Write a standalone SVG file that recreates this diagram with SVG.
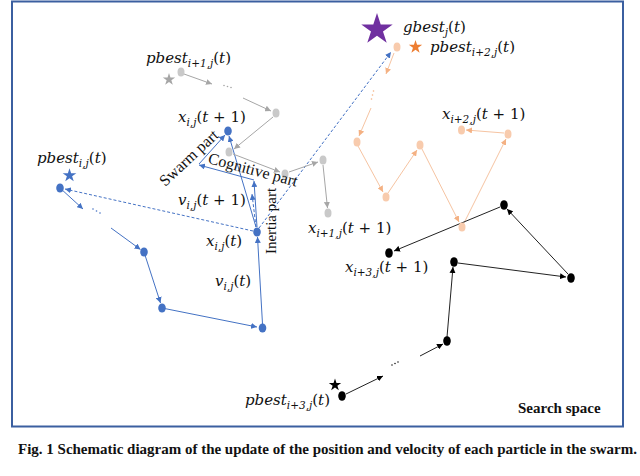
<svg xmlns="http://www.w3.org/2000/svg" xmlns:xlink="http://www.w3.org/1999/xlink" width="640" height="476" viewBox="0 0 640 476">
<defs>
<style>
.lb{font-family:"DejaVu Serif","Liberation Serif",serif;font-style:italic;font-size:15px;fill:#111}
.sb{font-size:10.5px}
.up{font-style:normal}
.part{font-family:"Liberation Serif",serif;font-size:15px;fill:#111}
.bl{stroke:#4472C4;stroke-width:1;fill:none}
.dash{stroke-dasharray:3,2}
.gr{stroke:#A6A6A6;stroke-width:1;fill:none}
.or{stroke:#F6C4A2;stroke-width:1;fill:none}
.bk{stroke:#222;stroke-width:1;fill:none}
.nb{fill:#4472C4}
.ng{fill:#C9C9C9}
.no{fill:#F8CBAD}
.nk{fill:#000}
</style>
<path id="star" d="M0,-1 L0.2245,-0.309 L0.951,-0.309 L0.363,0.118 L0.588,0.809 L0,0.382 L-0.588,0.809 L-0.363,0.118 L-0.951,-0.309 L-0.2245,-0.309Z"/>
<marker id="ab" viewBox="0 0 10 10" refX="10" refY="5" markerWidth="6" markerHeight="6" markerUnits="userSpaceOnUse" orient="auto"><path d="M0,0 L10,5 L0,10z" fill="#4472C4"/></marker>
<marker id="ag" viewBox="0 0 10 10" refX="10" refY="5" markerWidth="6" markerHeight="6" markerUnits="userSpaceOnUse" orient="auto"><path d="M0,0 L10,5 L0,10z" fill="#A6A6A6"/></marker>
<marker id="ao" viewBox="0 0 10 10" refX="10" refY="5" markerWidth="6" markerHeight="6" markerUnits="userSpaceOnUse" orient="auto"><path d="M0,0 L10,5 L0,10z" fill="#F4B183"/></marker>
<marker id="ak" viewBox="0 0 10 10" refX="10" refY="5" markerWidth="6" markerHeight="6" markerUnits="userSpaceOnUse" orient="auto"><path d="M0,0 L10,5 L0,10z" fill="#000"/></marker>
</defs>
<rect x="0" y="0" width="640" height="476" fill="#fff"/>
<rect x="12" y="1.5" width="611" height="425" fill="none" stroke="#3B5FA0" stroke-width="2"/>

<g id="connectors">
<line class="bl" x1="60" y1="188" x2="83" y2="209" marker-end="url(#ab)"/>
<line class="bl" x1="111" y1="228" x2="140.5" y2="249.5" marker-end="url(#ab)"/>
<line class="bl" x1="144" y1="252" x2="160.5" y2="303" marker-end="url(#ab)"/>
<line class="bl" x1="162" y1="308" x2="257" y2="327" marker-end="url(#ab)"/>
<line class="bl" x1="262.5" y1="324" x2="257.5" y2="237" marker-end="url(#ab)"/>
<line class="bl dash" x1="253" y1="231" x2="65" y2="189" marker-end="url(#ab)"/>
<line class="bl dash" x1="259" y1="228" x2="391" y2="52" marker-end="url(#ab)"/>
<line class="bl" x1="257" y1="227" x2="254" y2="181" marker-end="url(#ab)"/>
<line class="bl dash" x1="256" y1="227" x2="252" y2="194" marker-end="url(#ab)"/>
<line class="bl" x1="256" y1="227" x2="229" y2="136" marker-end="url(#ab)"/>
<line class="bl" x1="254" y1="180" x2="199" y2="165" marker-end="url(#ab)"/>
<line class="bl" x1="199" y1="164" x2="225" y2="135" marker-end="url(#ab)"/>
<line class="gr" x1="184" y1="74" x2="212" y2="84" marker-end="url(#ag)"/>
<line class="gr" x1="243" y1="98" x2="271" y2="111" marker-end="url(#ag)"/>
<line class="gr" x1="273" y1="117" x2="234" y2="149" marker-end="url(#ag)"/>
<line class="gr" x1="233" y1="154" x2="280" y2="172" marker-end="url(#ag)"/>
<line class="gr" x1="289" y1="172" x2="318" y2="162" marker-end="url(#ag)"/>
<line class="gr" x1="323" y1="165" x2="327.5" y2="208" marker-end="url(#ag)"/>
<line class="or" x1="394" y1="53" x2="386" y2="74" marker-end="url(#ao)"/>
<line class="or" x1="371" y1="108" x2="359" y2="136" marker-end="url(#ao)"/>
<line class="or" x1="358" y1="146" x2="383" y2="192" marker-end="url(#ao)"/>
<line class="or" x1="388" y1="193" x2="417" y2="150" marker-end="url(#ao)"/>
<line class="or" x1="422" y1="149" x2="459" y2="222" marker-end="url(#ao)"/>
<line class="or" x1="464" y1="223" x2="506" y2="139" marker-end="url(#ao)"/>
<line class="or" x1="504" y1="133" x2="466" y2="130" marker-end="url(#ao)"/>
<line class="bk" x1="346" y1="394" x2="383" y2="376" marker-end="url(#ak)"/>
<line class="bk" x1="420" y1="356" x2="443" y2="344" marker-end="url(#ak)"/>
<line class="bk" x1="447" y1="337" x2="453" y2="267" marker-end="url(#ak)"/>
<line class="bk" x1="458" y1="263" x2="566" y2="277" marker-end="url(#ak)"/>
<line class="bk" x1="568" y1="274" x2="507" y2="209" marker-end="url(#ak)"/>
<line class="bk" x1="500" y1="207" x2="394" y2="251" marker-end="url(#ak)"/>
<g fill="#4472C4"><circle cx="93" cy="209" r="0.8"/><circle cx="96.5" cy="211" r="0.8"/><circle cx="100" cy="213" r="0.8"/></g>
<g fill="#A6A6A6"><circle cx="224" cy="85.5" r="0.8"/><circle cx="227.5" cy="86.5" r="0.8"/><circle cx="231" cy="87.5" r="0.8"/></g>
<g fill="#F4B183"><circle cx="373.5" cy="91" r="0.8"/><circle cx="372.5" cy="95" r="0.8"/><circle cx="371.5" cy="99" r="0.8"/></g>
<g fill="#222"><circle cx="392" cy="365" r="0.8"/><circle cx="395" cy="363.5" r="0.8"/><circle cx="398" cy="362" r="0.8"/></g>
</g>

<g id="stars">
<use xlink:href="#star" transform="translate(377,29.5) scale(16.5)" fill="#7030A0"/>
<use xlink:href="#star" transform="translate(415.5,47) scale(7)" fill="#ED7D31"/>
<use xlink:href="#star" transform="translate(69.5,175.5) scale(7.2)" fill="#4472C4"/>
<use xlink:href="#star" transform="translate(169,79.5) scale(6.5)" fill="#A6A6A6"/>
<use xlink:href="#star" transform="translate(335,385) scale(6.5)" fill="#000"/>
</g>

<g id="particle-i">
<ellipse class="nb" cx="60" cy="188" rx="3.8" ry="4.5"/>
<ellipse class="nb" cx="144" cy="252" rx="3.8" ry="4.5"/>
<ellipse class="nb" cx="162" cy="308" rx="3.8" ry="4.5"/>
<ellipse class="nb" cx="262.5" cy="328" rx="3.8" ry="4.5"/>
<ellipse class="nb" cx="257" cy="232" rx="3.8" ry="4.5"/>
<ellipse class="nb" cx="228" cy="131" rx="3.8" ry="4.5"/>
</g>
<g id="particle-i1">
<ellipse class="ng" cx="181" cy="72" rx="3.5" ry="4.5"/>
<ellipse class="ng" cx="276" cy="113" rx="3.5" ry="4.5"/>
<ellipse class="ng" cx="229" cy="152" rx="3.5" ry="4.5"/>
<ellipse class="ng" cx="285" cy="174" rx="3.5" ry="4.5"/>
<ellipse class="ng" cx="323" cy="160" rx="3.5" ry="4.5"/>
<ellipse class="ng" cx="328" cy="213" rx="3.5" ry="4.5"/>
</g>
<g id="particle-i2">
<ellipse class="no" cx="397" cy="47" rx="3.5" ry="4.5"/>
<ellipse class="no" cx="357" cy="142" rx="3.5" ry="4.5"/>
<ellipse class="no" cx="386" cy="197" rx="3.5" ry="4.5"/>
<ellipse class="no" cx="420" cy="145" rx="3.5" ry="4.5"/>
<ellipse class="no" cx="462" cy="227" rx="3.5" ry="4.5"/>
<ellipse class="no" cx="508" cy="134" rx="3.5" ry="4.5"/>
<ellipse class="no" cx="461.5" cy="130" rx="3.5" ry="4.5"/>
</g>
<g id="particle-i3">
<ellipse class="nk" cx="342" cy="396" rx="3.8" ry="4.8"/>
<ellipse class="nk" cx="447" cy="341" rx="3.8" ry="4.8"/>
<ellipse class="nk" cx="454" cy="262" rx="3.8" ry="4.8"/>
<ellipse class="nk" cx="571" cy="278" rx="3.8" ry="4.8"/>
<ellipse class="nk" cx="504" cy="205" rx="3.8" ry="4.8"/>
<ellipse class="nk" cx="389" cy="253" rx="3.8" ry="4.8"/>
</g>

<g id="labels">
<text class="lb" x="403" y="32">gbest<tspan class="sb" dy="4">j</tspan><tspan dy="-4" class="up">(</tspan>t<tspan class="up">)</tspan></text>
<text class="lb" x="430" y="52">pbest<tspan class="sb" dy="4">i+2,j</tspan><tspan dy="-4" class="up">(</tspan>t<tspan class="up">)</tspan></text>
<text class="lb" x="146" y="63">pbest<tspan class="sb" dy="4">i+1,j</tspan><tspan dy="-4" class="up">(</tspan>t<tspan class="up">)</tspan></text>
<text class="lb" x="37" y="163">pbest<tspan class="sb" dy="4">i,j</tspan><tspan dy="-4" class="up">(</tspan>t<tspan class="up">)</tspan></text>
<text class="lb" x="245" y="405">pbest<tspan class="sb" dy="4">i+3,j</tspan><tspan dy="-4" class="up">(</tspan>t<tspan class="up">)</tspan></text>
<text class="lb" x="178" y="122">x<tspan class="sb" dy="4">i,j</tspan><tspan dy="-4" class="up">(</tspan>t<tspan class="up"> + 1)</tspan></text>
<text class="lb" x="178" y="205">v<tspan class="sb" dy="4">i,j</tspan><tspan dy="-4" class="up">(</tspan>t<tspan class="up"> + 1)</tspan></text>
<text class="lb" x="206" y="246">x<tspan class="sb" dy="4">i,j</tspan><tspan dy="-4" class="up">(</tspan>t<tspan class="up">)</tspan></text>
<text class="lb" x="215" y="286">v<tspan class="sb" dy="4">i,j</tspan><tspan dy="-4" class="up">(</tspan>t<tspan class="up">)</tspan></text>
<text class="lb" x="442" y="119">x<tspan class="sb" dy="4">i+2,j</tspan><tspan dy="-4" class="up">(</tspan>t<tspan class="up"> + 1)</tspan></text>
<text class="lb" x="308" y="233">x<tspan class="sb" dy="4">i+1,j</tspan><tspan dy="-4" class="up">(</tspan>t<tspan class="up"> + 1)</tspan></text>
<text class="lb" x="345" y="272">x<tspan class="sb" dy="4">i+3,j</tspan><tspan dy="-4" class="up">(</tspan>t<tspan class="up"> + 1)</tspan></text>
<text class="part" text-anchor="middle" y="5" transform="translate(189,158) rotate(-43)" style="font-size:16px">Swarm part</text>
<text class="part" text-anchor="middle" y="5" transform="translate(253,170) rotate(15)" style="font-size:16px">Cognitive part</text>
<text class="part" text-anchor="middle" y="5" transform="translate(271,221) rotate(-90)">Inertia part</text>
<text x="518" y="413" font-family="Liberation Serif, serif" font-weight="bold" font-size="15" fill="#111">Search space</text>
</g>
<text x="18" y="454" font-family="Liberation Serif, serif" font-weight="bold" font-size="14" fill="#111" textLength="619" lengthAdjust="spacingAndGlyphs">Fig. 1 Schematic diagram of the update of the position and velocity of each particle in the swarm.</text>
</svg>
